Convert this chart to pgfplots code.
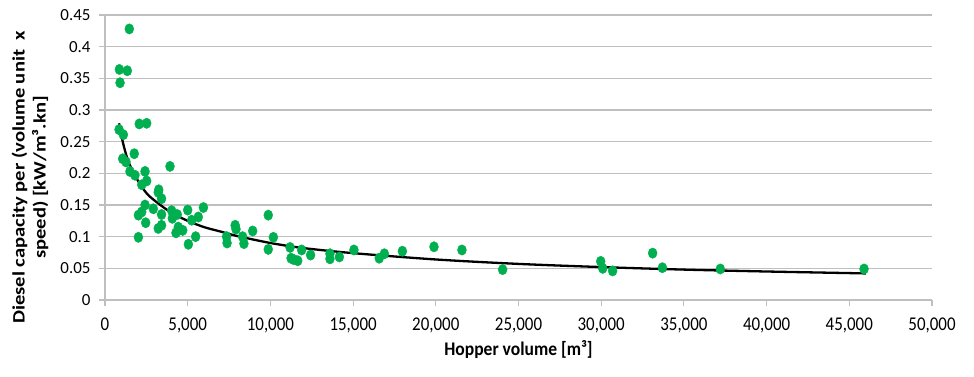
\documentclass[border=0pt]{standalone}
\usepackage{pgfplots}
\pgfplotsset{compat=1.18}
\usepackage{fontspec}
\setmainfont{Carlito}
\definecolor{ptgreen}{RGB}{0,176,80}
\definecolor{gridgray}{RGB}{191,191,191}
\begin{document}
\begin{tikzpicture}[x=1bp,y=1bp]
\useasboundingbox (-105,-76) rectangle (869,300);
\begin{axis}[
  at={(0,0)}, anchor=south west,
  scale only axis, width=827bp, height=285bp,
  xmin=0, xmax=50000, ymin=0, ymax=0.45,
  axis lines=left,
  axis line style={gridgray, line width=1.3bp, -},
  tick align=outside,
  major tick length=6bp,
  tick style={gridgray, line width=1.1bp},
  ymajorgrids,
  grid style={gridgray, line width=1.3bp},
  xtick={0,5000,10000,15000,20000,25000,30000,35000,40000,45000,50000},
  ytick={0,0.05,0.1,0.15,0.2,0.25,0.3,0.35,0.4,0.45},
  scaled x ticks=false, scaled y ticks=false,
  /pgf/number format/assume math mode=true,
  xticklabel style={/pgf/number format/.cd, fixed, 1000 sep={,}, min exponent for 1000 sep=0, /tikz/.cd, yshift=-8bp, yscale=1.15},
  yticklabel style={/pgf/number format/.cd, fixed, precision=2, /tikz/.cd, xshift=-5bp},
  ticklabel style={font=\fontsize{17}{20}\selectfont, text=black},
  xlabel={Hopper volume [m³]},
  xlabel style={font=\fontsize{17.6}{21}\selectfont\bfseries, at={(axis description cs:0.5,0)}, anchor=center, yshift=-50bp, yscale=1.1},
  ylabel={Diesel capacity per (volume unit~ x\\speed) [kW/m³.kn]},
  ylabel style={font=\fontsize{17.5}{21}\selectfont\bfseries, align=center, at={(axis description cs:0,0.43)}, anchor=center, yshift=75bp, xscale=1.18},
  clip=false,
]
\addplot[only marks, mark=*, mark size=5.2bp, mark options={xscale=0.86, fill=ptgreen, draw=ptgreen}] table {
x y
870 0.364
1350 0.362
910 0.343
1470 0.428
850 0.269
1110 0.261
2070 0.278
2520 0.279
1770 0.231
1070 0.223
1270 0.218
1510 0.203
1810 0.197
2420 0.203
3930 0.211
2520 0.188
2220 0.182
3220 0.170
3250 0.174
3420 0.160
2420 0.150
2920 0.144
2020 0.134
2220 0.139
3420 0.135
4030 0.141
4370 0.135
4070 0.129
2460 0.122
3420 0.118
3220 0.113
4430 0.115
4700 0.110
4540 0.111
4290 0.106
5000 0.142
5240 0.126
5640 0.131
5950 0.146
2020 0.099
5040 0.088
5480 0.100
7350 0.100
7380 0.090
7870 0.118
7920 0.112
8320 0.100
8400 0.089
8930 0.109
9870 0.134
10180 0.099
9870 0.080
11190 0.083
11250 0.066
11400 0.064
11650 0.062
11890 0.079
12430 0.071
13600 0.073
13600 0.065
14170 0.068
15050 0.079
16580 0.066
16890 0.073
17980 0.077
19890 0.084
21580 0.079
24040 0.048
29970 0.061
30090 0.050
30690 0.046
33110 0.074
33700 0.051
37200 0.049
45890 0.049
};
\addplot[black, line width=2.3bp, smooth] table {
x y
850 0.279
1000 0.258
1250 0.232
1500 0.213
2000 0.188
2500 0.169
3000 0.157
4000 0.138
5000 0.125
6000 0.115
7000 0.108
8000 0.101
10000 0.090
12000 0.082
15000 0.074
20000 0.064
25000 0.057
30000 0.052
35000 0.048
40000 0.045
46000 0.042
};
\end{axis}
\end{tikzpicture}
\end{document}
